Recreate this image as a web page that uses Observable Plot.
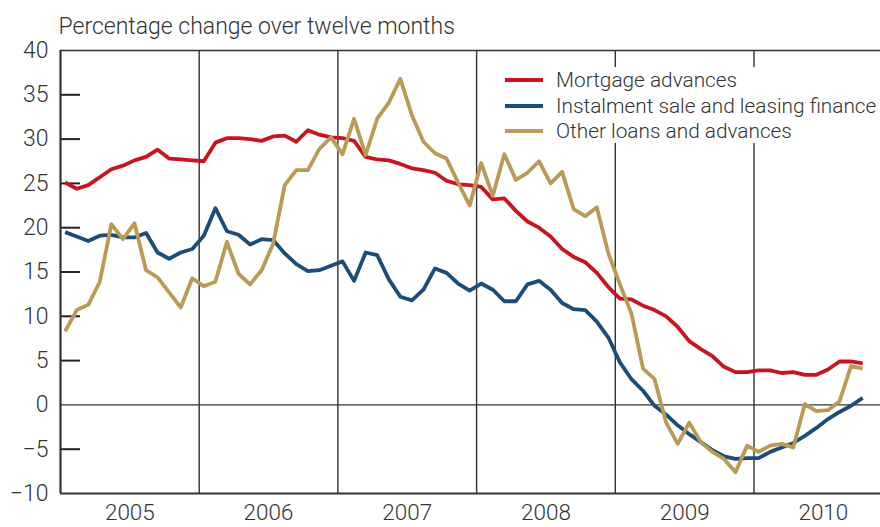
<!DOCTYPE html>
<html>
<head>
<meta charset="utf-8">
<script src="https://cdn.jsdelivr.net/npm/d3@7"></script>
<script src="https://cdn.jsdelivr.net/npm/@observablehq/plot@0.6"></script>
<style>
  html, body { margin: 0; padding: 0; background: #fff; }
  #wrap { position: relative; width: 880px; height: 527px; font-family: Roboto, "Liberation Sans", sans-serif; font-weight: 300; color: #333; }
  #legend { position: absolute; left: 500px; top: 67px; width: 380px; height: 76px; background: #fff; }
  .item { position: absolute; left: 5px; height: 26px; display: flex; align-items: center; font-size: 20.8px; white-space: nowrap; }
  .swatch { width: 38px; height: 4px; margin-right: 13px; }
</style>
</head>
<body>
<div id="wrap"></div>
<script>
// Monthly data, Jan 2005 – Oct 2010, percentage change over twelve months
const startYear = 2005;
const years = ["2005", "2006", "2007", "2008", "2009", "2010"];
const yTicks = [-10, -5, 0, 5, 10, 15, 20, 25, 30, 35, 40];
const seriesNames = ["Mortgage advances", "Instalment sale and leasing finance", "Other loans and advances"];
const seriesColors = ["#c8141f", "#1b4d78", "#b99a56"];

const mortgage = [
  25.1, 24.4, 24.8, 25.7, 26.6, 27.0, 27.6, 28.0, 28.8, 27.8, 27.7, 27.6,
  27.5, 29.6, 30.1, 30.1, 30.0, 29.8, 30.3, 30.4, 29.7, 31.0, 30.5, 30.2,
  30.1, 29.8, 28.0, 27.7, 27.6, 27.2, 26.7, 26.5, 26.2, 25.3, 24.9, 24.8,
  24.6, 23.2, 23.3, 21.9, 20.7, 20.0, 19.0, 17.6, 16.7, 16.1, 14.9, 13.3,
  12.0, 11.9, 11.2, 10.7, 10.0, 8.8, 7.2, 6.3, 5.5, 4.3, 3.7, 3.7,
  3.9, 3.9, 3.6, 3.7, 3.4, 3.4, 4.0, 4.9, 4.9, 4.7
];
const instalment = [
  19.5, 19.0, 18.5, 19.1, 19.2, 18.9, 18.9, 19.4, 17.2, 16.5, 17.2, 17.6,
  19.1, 22.2, 19.6, 19.2, 18.1, 18.7, 18.6, 17.1, 15.9, 15.1, 15.2, 15.7,
  16.2, 14.0, 17.2, 16.9, 14.2, 12.2, 11.8, 13.0, 15.4, 14.9, 13.7, 12.9,
  13.7, 13.0, 11.7, 11.7, 13.6, 14.0, 13.0, 11.5, 10.8, 10.7, 9.4, 7.6,
  4.8, 2.9, 1.6, -0.1, -1.1, -2.3, -3.3, -4.2, -5.1, -5.8, -6.1, -6.0,
  -6.0, -5.3, -4.8, -4.3, -3.5, -2.6, -1.6, -0.8, -0.1, 0.8
];
const otherLoans = [
  8.3, 10.7, 11.3, 13.9, 20.4, 18.7, 20.5, 15.2, 14.4, 12.7, 11.0, 14.3,
  13.4, 13.9, 18.4, 14.8, 13.6, 15.2, 18.2, 24.8, 26.5, 26.5, 28.9, 30.2,
  28.3, 32.3, 28.2, 32.3, 34.1, 36.8, 32.7, 29.7, 28.4, 27.8, 25.1, 22.5,
  27.3, 23.6, 28.3, 25.4, 26.2, 27.5, 25.0, 26.3, 22.1, 21.3, 22.3, 17.1,
  13.6, 10.3, 4.1, 2.9, -2.0, -4.4, -2.0, -4.2, -5.3, -6.1, -7.6, -4.6,
  -5.3, -4.6, -4.4, -4.8, 0.1, -0.7, -0.6, 0.4, 4.4, 4.1
];
const title = "Percentage change over twelve months";

const allSeries = [mortgage, instalment, otherLoans];
const rows = allSeries.flatMap((vals, s) =>
  vals.map((v, i) => ({ t: startYear + (i + 0.4) / 12, v, s: seriesNames[s] })));

const yearStarts = years.map(y => +y);
const yearMids = years.map(y => +y + 0.5);
const xEnd = startYear + 820 / 138.7;

const ink = "#333";
const chart = Plot.plot({
  width: 880,
  height: 527,
  marginTop: 50,
  marginBottom: 34,
  marginLeft: 60,
  marginRight: 0,
  style: { fontFamily: "Roboto, 'Liberation Sans', sans-serif", fontWeight: 300, color: ink, background: "#fff", overflow: "visible" },
  x: { domain: [startYear, xEnd] },
  y: { domain: [-10, 40] },
  color: { domain: seriesNames, range: seriesColors },
  marks: [
    Plot.ruleX(yearStarts.slice(1), { stroke: ink, strokeWidth: 1.4 }),
    Plot.ruleY([0], { stroke: ink, strokeWidth: 1.4 }),
    Plot.ruleY([40], { stroke: ink, strokeWidth: 1.6 }),
    Plot.tickY(yTicks.filter(d => d !== 0 && d !== 40 && d !== -10), { y: d => d, stroke: "#222", strokeWidth: 2, insetRight: 800 }),
    Plot.line(rows, { x: "t", y: "v", z: "s", stroke: "s", strokeWidth: 3.8, strokeLinejoin: "round", strokeLinecap: "butt" }),
    Plot.ruleY([-10], { stroke: ink, strokeWidth: 2.2 }),
    Plot.ruleX([startYear], { stroke: ink, strokeWidth: 2.2 }),
    Plot.axisY({ ticks: yTicks, tickSize: 0, tickPadding: 12, fontSize: 23, label: null }),
    Plot.axisX({ ticks: yearMids, tickSize: 0, tickPadding: 11, fontSize: 22.5, tickFormat: d => years[Math.floor(d) - startYear], label: null }),
    Plot.text([title], { frameAnchor: "top-left", dx: -2, dy: -17, textAnchor: "start", lineAnchor: "bottom", fontSize: 23, fill: ink })
  ]
});

const wrap = document.getElementById("wrap");
wrap.appendChild(chart);

const legend = document.createElement("div");
legend.id = "legend";
seriesNames.forEach((name, k) => {
  const item = document.createElement("div");
  item.className = "item";
  item.style.top = (k * 25.5) + "px";
  const sw = document.createElement("span");
  sw.className = "swatch";
  sw.style.background = seriesColors[k];
  const lab = document.createElement("span");
  lab.textContent = name;
  item.appendChild(sw);
  item.appendChild(lab);
  legend.appendChild(item);
});
wrap.appendChild(legend);
</script>
</body>
</html>
